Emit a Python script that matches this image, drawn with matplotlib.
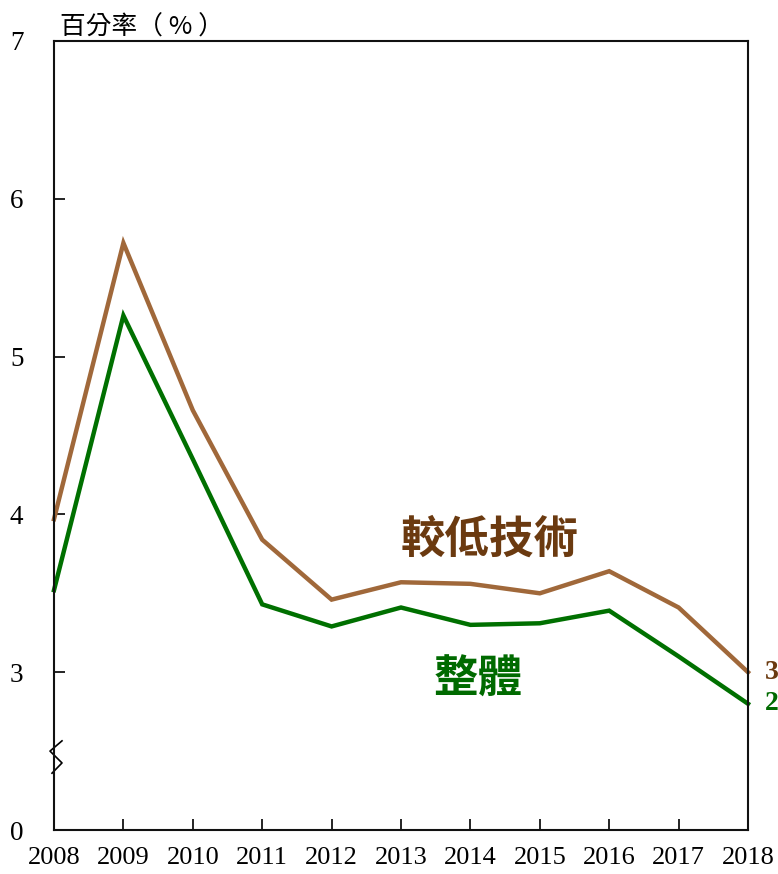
import matplotlib
matplotlib.use("Agg")
import matplotlib.pyplot as plt
import matplotlib.transforms as mtrans

years = [2008, 2009, 2010, 2011, 2012, 2013, 2014, 2015, 2016, 2017, 2018]
low_tech = [3.97, 5.72, 4.66, 3.84, 3.46, 3.57, 3.56, 3.50, 3.64, 3.41, 3.00]
overall = [3.52, 5.26, 4.35, 3.43, 3.29, 3.41, 3.30, 3.31, 3.39, 3.10, 2.80]
ytick_pos = [2, 3, 4, 5, 6, 7]
ytick_lab = ["0", "3", "4", "5", "6", "7"]

brown_line = "#A0683A"
brown_text = "#6B3A10"
green_line = "#007000"
green_text = "#006A00"

fig = plt.figure(figsize=(7.78, 8.74), dpi=100)
ax = fig.add_axes([54/778, (874-830)/874, (748-54)/778, (830-41)/874])

ax.plot(years, low_tech, color=brown_line, lw=3.2, solid_joinstyle="miter", clip_on=False)
ax.plot(years, overall, color=green_line, lw=3.2, solid_joinstyle="miter", clip_on=False)

ax.set_xlim(2008, 2018)
ax.set_ylim(2, 7)
ax.set_xticks(years)
ax.set_xticklabels([str(y) for y in years], fontfamily="Liberation Serif", fontsize=19)
ax.set_yticks(ytick_pos)
ax.set_yticklabels(ytick_lab, fontfamily="Liberation Serif", fontsize=19.5)
ax.tick_params(axis="x", direction="in", length=8, width=1.2, pad=12)
ax.tick_params(axis="y", direction="in", length=8, width=1.2, pad=22)
for s in ax.spines.values():
    s.set_linewidth(1.5)
    s.set_color("#111111")

# axis break marker
tr = mtrans.blended_transform_factory(ax.transAxes, ax.transData)
bx = [8/694, -4/694, 8/694, -2/694]
by = [2.565, 2.50, 2.425, 2.36]
ax.plot(bx, by, color="black", lw=1.2, transform=tr, clip_on=False)

cjk = ["Noto Sans CJK TC", "DejaVu Sans"]
fig.text(60/778, 1-28/874, "百分率（ % ）", fontfamily=cjk, fontsize=18.5, ha="left", va="center")
ax.text(2014.28, 3.84, "較低技術", fontfamily=cjk, fontsize=32, fontweight="bold",
        color=brown_text, ha="center", va="center")
ax.text(2014.11, 2.955, "整體", fontfamily=cjk, fontsize=32, fontweight="bold",
        color=green_text, ha="center", va="center")

ax.annotate(f"{low_tech[-1]:.1f}", xy=(years[-1], low_tech[-1]), xytext=(12, 0),
            textcoords="offset points", fontfamily="Liberation Serif", fontsize=20,
            fontweight="bold", color=brown_text, ha="left", va="center", annotation_clip=False)
ax.annotate(f"{overall[-1]:.1f}", xy=(years[-1], overall[-1]), xytext=(12, 0),
            textcoords="offset points", fontfamily="Liberation Serif", fontsize=20,
            fontweight="bold", color=green_text, ha="left", va="center", annotation_clip=False)

fig.savefig("out.png", dpi=100)
